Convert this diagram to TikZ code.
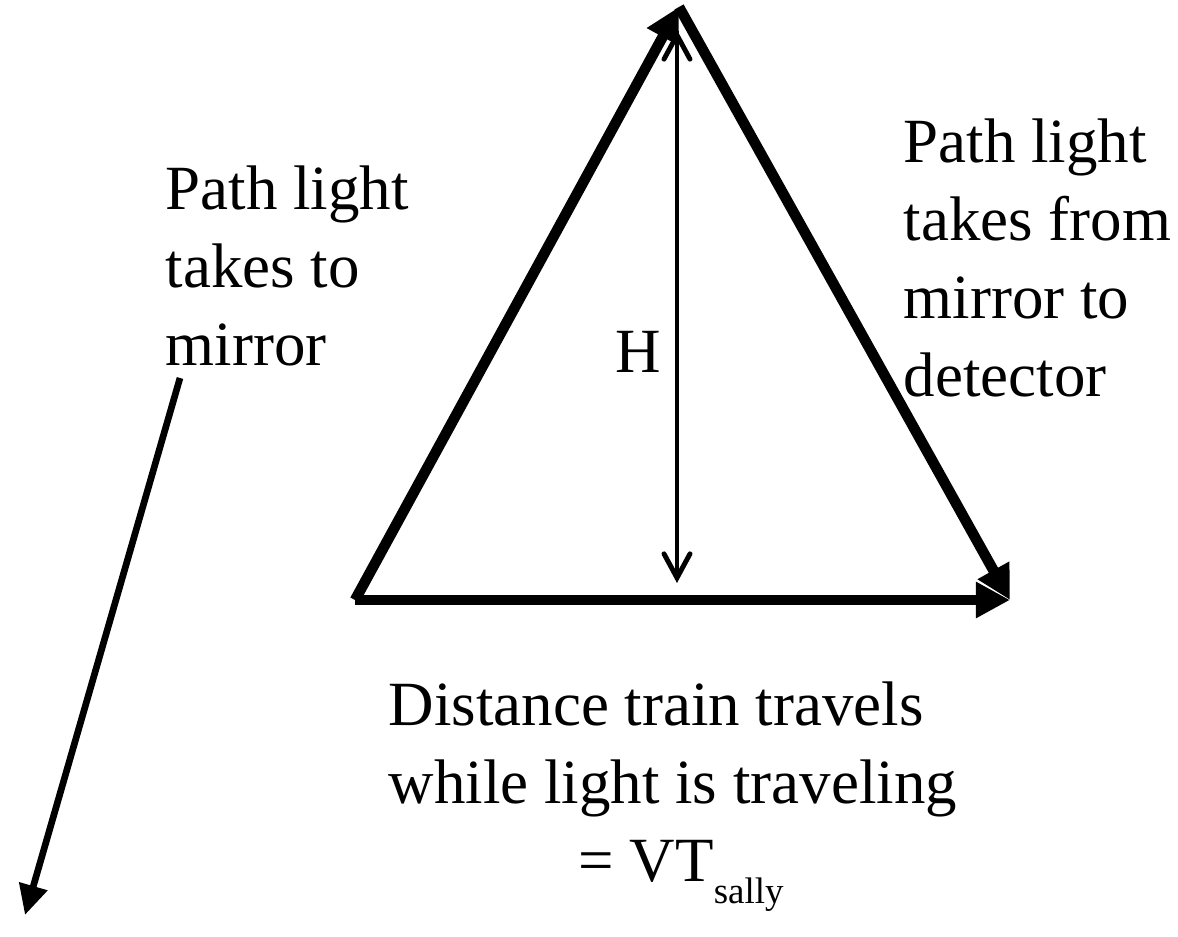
\documentclass[tikz,border=0pt]{standalone}
\usepackage{fontspec}
\setmainfont{Liberation Serif}
\usetikzlibrary{arrows.meta,positioning}
\tikzset{
  path label/.style={
    align=left, inner sep=0pt, anchor=north west,
    font=\fontsize{17.9}{22.2}\selectfont
  },
  light arrow/.style={-{Triangle[length=0.34cm,width=0.34cm]}, line width=3pt, line join=miter},
  pointer arrow/.style={-{Triangle[length=0.3cm,width=0.28cm]}, line width=1.9pt},
  height arrow/.style={{Straight Barb[length=0.24cm,width=0.26cm,line cap=round]}-{Straight Barb[length=0.24cm,width=0.26cm,line cap=round]}, line width=1.4pt}
}
\begin{document}
\begin{tikzpicture}[x=0.01cm, y=-0.01cm]
    \useasboundingbox (0,0) rectangle (1178,937);
    % triangle corners
    \coordinate (start) at (355,600);
    \coordinate (mirror) at (679,7);
    \coordinate (detector) at (1010,600);
    \coordinate (top) at (677,30);
    \coordinate (bottom) at (677,583);
    % labels
    \node[path label] (tomirror) at (165,165) {Path light\\takes to\\mirror};
    \node[path label] (fromirror) at (903,118) {Path light\\takes from\\mirror to\\detector};
    \node[path label] (distance) at (388,681) {Distance train travels\\while light is traveling};
    \node[path label] (equals) at (578,840) {= VT\raisebox{-0.75ex}{\fontsize{10.5}{10.5}\selectfont sally}};
    \node[path label, anchor=east] (height) at (662,352) {H};
    \coordinate (pointer start) at (180,378);
    \coordinate (pointer end) at (25,915);
    % arrows
    \draw[light arrow] (start) -- (mirror);
    \draw[light arrow] (mirror) -- (detector);
    \draw[light arrow] (start) -- (detector);
    \draw[height arrow] (bottom) -- (top);
    \draw[pointer arrow] (pointer start) -- (pointer end);
  \end{tikzpicture}
\end{document}
